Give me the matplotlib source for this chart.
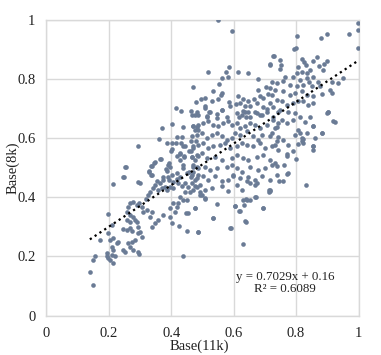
"""Scatter of Base(8k) against Base(11k) with a linear trendline."""

import matplotlib.pyplot as plt
import numpy as np

plt.rcParams["font.family"] = ["Liberation Serif", "DejaVu Serif"]

# values, grouped by region of the plot
lower_left = [
    (0.399, 0.558), (0.417, 0.540), (0.428, 0.549), (0.441, 0.535), (0.458, 0.555),
    (0.465, 0.535), (0.476, 0.526), (0.487, 0.540), (0.428, 0.526), (0.391, 0.509),
    (0.396, 0.504), (0.364, 0.528), (0.345, 0.517), (0.334, 0.506), (0.330, 0.487),
    (0.337, 0.475), (0.383, 0.495), (0.387, 0.490), (0.401, 0.475), (0.417, 0.483),
    (0.436, 0.498), (0.449, 0.481), (0.463, 0.470), (0.468, 0.487), (0.481, 0.504),
    (0.487, 0.475), (0.476, 0.459), (0.465, 0.447), (0.455, 0.436), (0.444, 0.419),
    (0.428, 0.470), (0.417, 0.461), (0.406, 0.453), (0.393, 0.459), (0.374, 0.459),
    (0.364, 0.447), (0.353, 0.456), (0.348, 0.442), (0.340, 0.430), (0.332, 0.419),
    (0.326, 0.408), (0.319, 0.393), (0.358, 0.425), (0.369, 0.430), (0.380, 0.436),
    (0.385, 0.425), (0.396, 0.436), (0.406, 0.430), (0.423, 0.447), (0.433, 0.438),
    (0.444, 0.447), (0.460, 0.419), (0.471, 0.425), (0.481, 0.436), (0.428, 0.402),
    (0.439, 0.391), (0.423, 0.380), (0.417, 0.368), (0.404, 0.380), (0.396, 0.363),
    (0.412, 0.351), (0.449, 0.391), (0.447, 0.346), (0.476, 0.363), (0.487, 0.284),
    (0.449, 0.287), (0.426, 0.303), (0.401, 0.312), (0.396, 0.335), (0.374, 0.340),
    (0.358, 0.323), (0.348, 0.312), (0.337, 0.301), (0.332, 0.335), (0.337, 0.351),
    (0.321, 0.357), (0.310, 0.351), (0.305, 0.366), (0.298, 0.380), (0.289, 0.374),
    (0.278, 0.385), (0.268, 0.380), (0.262, 0.368), (0.257, 0.351), (0.268, 0.340),
    (0.278, 0.335), (0.284, 0.323), (0.291, 0.318), (0.268, 0.318), (0.257, 0.323),
    (0.246, 0.292), (0.257, 0.289), (0.268, 0.295), (0.273, 0.287), (0.294, 0.301),
    (0.300, 0.284), (0.305, 0.267), (0.294, 0.278), (0.284, 0.256), (0.273, 0.250),
    (0.262, 0.245), (0.246, 0.222), (0.252, 0.216), (0.268, 0.233), (0.278, 0.222),
    (0.294, 0.216), (0.298, 0.208), (0.230, 0.250), (0.225, 0.245), (0.214, 0.222),
    (0.209, 0.233), (0.204, 0.256), (0.198, 0.279), (0.198, 0.344), (0.209, 0.307),
    (0.214, 0.262), (0.193, 0.211), (0.193, 0.200), (0.198, 0.194), (0.204, 0.188),
    (0.209, 0.205), (0.220, 0.202), (0.214, 0.177), (0.155, 0.200), (0.150, 0.188),
    (0.139, 0.149), (0.148, 0.104), (0.171, 0.256), (0.252, 0.502), (0.248, 0.468),
    (0.212, 0.445), (0.294, 0.453), (0.300, 0.447), (0.439, 0.200),
]

center = [
    (0.465, 0.679), (0.481, 0.690), (0.513, 0.676), (0.524, 0.690), (0.545, 0.682),
    (0.561, 0.694), (0.610, 0.685), (0.626, 0.679), (0.636, 0.690), (0.652, 0.673),
    (0.674, 0.685), (0.690, 0.679), (0.706, 0.690), (0.727, 0.673), (0.743, 0.687),
    (0.471, 0.640), (0.487, 0.645), (0.503, 0.651), (0.519, 0.657), (0.535, 0.645),
    (0.551, 0.640), (0.567, 0.651), (0.583, 0.657), (0.594, 0.645), (0.610, 0.651),
    (0.620, 0.634), (0.636, 0.640), (0.652, 0.651), (0.668, 0.645), (0.684, 0.634),
    (0.706, 0.645), (0.732, 0.634), (0.743, 0.651), (0.465, 0.606), (0.481, 0.611),
    (0.497, 0.617), (0.513, 0.600), (0.529, 0.611), (0.545, 0.617), (0.561, 0.606),
    (0.578, 0.595), (0.594, 0.600), (0.604, 0.617), (0.620, 0.611), (0.642, 0.623),
    (0.663, 0.606), (0.679, 0.595), (0.690, 0.611), (0.716, 0.606), (0.738, 0.589),
    (0.471, 0.572), (0.487, 0.578), (0.503, 0.583), (0.519, 0.566), (0.535, 0.572),
    (0.556, 0.578), (0.572, 0.583), (0.588, 0.566), (0.610, 0.572), (0.626, 0.583),
    (0.642, 0.578), (0.663, 0.572), (0.684, 0.583), (0.700, 0.566), (0.722, 0.572),
    (0.743, 0.561), (0.465, 0.538), (0.481, 0.544), (0.497, 0.549), (0.513, 0.533),
    (0.540, 0.538), (0.561, 0.527), (0.594, 0.533), (0.610, 0.544), (0.631, 0.533),
    (0.647, 0.527), (0.674, 0.538), (0.695, 0.544), (0.716, 0.527), (0.732, 0.516),
    (0.471, 0.510), (0.487, 0.499), (0.508, 0.504), (0.524, 0.493), (0.545, 0.499),
    (0.578, 0.504), (0.594, 0.510), (0.610, 0.499), (0.626, 0.487), (0.652, 0.504),
    (0.679, 0.493), (0.700, 0.499), (0.722, 0.510), (0.465, 0.476), (0.481, 0.465),
    (0.503, 0.471), (0.519, 0.459), (0.540, 0.471), (0.561, 0.454), (0.583, 0.459),
    (0.599, 0.476), (0.620, 0.465), (0.642, 0.454), (0.668, 0.459), (0.690, 0.471),
    (0.716, 0.459), (0.476, 0.437), (0.492, 0.442), (0.508, 0.425), (0.529, 0.431),
    (0.561, 0.437), (0.583, 0.420), (0.610, 0.442), (0.626, 0.425), (0.652, 0.448),
    (0.716, 0.425), (0.716, 0.420), (0.508, 0.397), (0.492, 0.409), (0.631, 0.392),
    (0.642, 0.392), (0.668, 0.401), (0.695, 0.363), (0.604, 0.369), (0.620, 0.354),
    (0.636, 0.321), (0.588, 0.296), (0.535, 0.330), (0.476, 0.363), (0.487, 0.282),
]

upper_right = [
    (0.997, 0.989), (0.997, 0.966), (0.999, 0.904), (0.968, 0.952), (0.898, 0.953),
    (0.879, 0.938), (0.802, 0.946), (0.800, 0.904), (0.793, 0.901), (0.729, 0.878),
    (0.748, 0.865), (0.750, 0.848), (0.748, 0.833), (0.716, 0.848), (0.818, 0.867),
    (0.825, 0.859), (0.832, 0.848), (0.855, 0.862), (0.866, 0.876), (0.874, 0.844),
    (0.889, 0.851), (0.900, 0.861), (0.887, 0.829), (0.807, 0.842), (0.804, 0.820),
    (0.818, 0.825), (0.834, 0.820), (0.845, 0.831), (0.855, 0.808), (0.834, 0.803),
    (0.812, 0.797), (0.789, 0.808), (0.764, 0.806), (0.757, 0.795), (0.738, 0.786),
    (0.722, 0.791), (0.780, 0.780), (0.802, 0.775), (0.823, 0.780), (0.842, 0.791),
    (0.850, 0.775), (0.871, 0.791), (0.877, 0.775), (0.914, 0.791), (0.935, 0.786),
    (0.949, 0.803), (0.909, 0.763), (0.914, 0.754), (0.882, 0.750), (0.853, 0.741),
    (0.834, 0.746), (0.818, 0.758), (0.796, 0.752), (0.780, 0.746), (0.759, 0.758),
    (0.732, 0.763), (0.722, 0.746), (0.738, 0.729), (0.754, 0.724), (0.770, 0.713),
    (0.791, 0.718), (0.807, 0.724), (0.823, 0.724), (0.839, 0.713), (0.853, 0.718),
    (0.727, 0.705), (0.748, 0.696), (0.775, 0.690), (0.796, 0.684), (0.812, 0.673),
    (0.845, 0.673), (0.903, 0.690), (0.919, 0.658), (0.855, 0.641), (0.829, 0.656),
    (0.807, 0.628), (0.791, 0.662), (0.770, 0.650), (0.754, 0.662), (0.738, 0.639),
    (0.727, 0.662), (0.722, 0.617), (0.743, 0.605), (0.759, 0.594), (0.775, 0.577),
    (0.796, 0.611), (0.818, 0.600), (0.834, 0.617), (0.855, 0.572), (0.882, 0.617),
    (0.732, 0.577), (0.823, 0.583),
]

upper_middle = [
    (0.551, 0.998), (0.593, 0.963), (0.586, 0.840), (0.575, 0.823), (0.581, 0.806),
    (0.561, 0.803), (0.552, 0.784), (0.517, 0.823), (0.613, 0.823), (0.645, 0.820),
    (0.679, 0.799), (0.716, 0.851), (0.727, 0.878), (0.468, 0.772), (0.533, 0.760),
    (0.561, 0.754), (0.558, 0.746), (0.551, 0.732), (0.529, 0.724), (0.508, 0.735),
    (0.495, 0.732), (0.479, 0.723), (0.509, 0.709), (0.522, 0.688), (0.508, 0.701),
    (0.462, 0.693), (0.430, 0.693), (0.414, 0.701), (0.476, 0.679), (0.487, 0.679),
    (0.513, 0.673), (0.561, 0.696), (0.586, 0.723), (0.588, 0.709), (0.615, 0.743),
    (0.631, 0.732), (0.647, 0.724), (0.665, 0.732), (0.679, 0.763), (0.684, 0.743),
    (0.695, 0.735), (0.703, 0.772), (0.716, 0.769), (0.711, 0.750), (0.620, 0.720),
    (0.607, 0.716), (0.636, 0.709), (0.652, 0.709), (0.674, 0.720), (0.693, 0.707),
    (0.716, 0.718), (0.629, 0.693), (0.647, 0.690), (0.668, 0.690), (0.684, 0.679),
    (0.706, 0.698), (0.618, 0.673), (0.641, 0.671), (0.577, 0.671), (0.545, 0.667),
]

scattered = [
    (0.401, 0.648), (0.369, 0.634), (0.438, 0.637), (0.468, 0.641), (0.482, 0.639),
    (0.477, 0.628), (0.484, 0.626), (0.292, 0.574), (0.362, 0.596), (0.385, 0.585),
    (0.401, 0.583), (0.417, 0.603), (0.433, 0.603), (0.415, 0.585), (0.430, 0.583),
    (0.436, 0.574), (0.444, 0.572), (0.463, 0.592), (0.478, 0.592), (0.469, 0.566),
    (0.462, 0.555), (0.401, 0.563), (0.428, 0.547), (0.441, 0.540), (0.367, 0.529),
    (0.394, 0.515), (0.436, 0.508), (0.470, 0.504), (0.458, 0.487), (0.254, 0.504),
    (0.328, 0.490), (0.337, 0.507), (0.348, 0.518), (0.334, 0.476), (0.246, 0.468),
    (0.372, 0.468), (0.388, 0.470), (0.772, 0.479), (0.744, 0.455), (0.759, 0.455),
    (0.738, 0.476), (0.714, 0.425), (0.714, 0.419), (0.831, 0.442), (0.693, 0.363),
    (0.672, 0.402), (0.652, 0.391), (0.639, 0.393), (0.633, 0.374), (0.618, 0.355),
    (0.604, 0.369), (0.638, 0.318), (0.590, 0.295), (0.631, 0.242), (0.545, 0.378),
    (0.533, 0.329), (0.455, 0.346), (0.508, 0.393), (0.492, 0.419), (0.497, 0.408),
    (0.674, 0.448), (0.668, 0.442), (0.647, 0.470), (0.599, 0.472), (0.855, 0.641),
    (0.882, 0.617), (0.861, 0.600), (0.853, 0.574), (0.855, 0.560), (0.813, 0.617),
    (0.823, 0.596), (0.818, 0.592), (0.807, 0.581), (0.772, 0.540), (0.775, 0.481),
    (0.738, 0.506), (0.925, 0.656), (0.903, 0.690), (0.898, 0.684), (0.790, 0.555),
    (0.770, 0.545), (0.760, 0.510), (0.800, 0.530),
]

# trendline as printed on the chart
slope = 0.7029
intercept = 0.16
r_squared = 0.6089

points = np.array(lower_left + center + upper_right + upper_middle + scattered)
base_11k = points[:, 0]
base_8k = points[:, 1]

fig = plt.figure(figsize=(3.81, 3.55), dpi=100)
ax = fig.add_axes([0.122, 0.111, 0.819, 0.833])

ax.scatter(base_11k, base_8k, s=11, color="#6A7B95", linewidths=0, zorder=3)

trend_x = np.array([base_11k.min(), base_11k.max()])
ax.plot(trend_x, slope * trend_x + intercept, color="black", lw=1.6,
        linestyle=(0, (1, 1.6)), zorder=4)

ax.set_xlim(0, 1)
ax.set_ylim(0, 1)
ticks = [0, 0.2, 0.4, 0.6, 0.8, 1]
tick_labels = ["0", "0.2", "0.4", "0.6", "0.8", "1"]
ax.set_xticks(ticks, tick_labels)
ax.set_yticks(ticks, tick_labels)
ax.tick_params(length=0, labelsize=10.5, pad=8, colors="#222222")
ax.grid(True, color="#D9D9D9", lw=1)
ax.set_axisbelow(True)
for spine in ax.spines.values():
    spine.set_color("#D9D9D9")
    spine.set_linewidth(1)

ax.set_xlabel("Base(11k)", fontsize=10.5, color="#222222", va="center")
ax.set_ylabel("Base(8k)", fontsize=10.5, color="#222222", va="center")
ax.xaxis.set_label_coords(0.49, -0.102)
ax.yaxis.set_label_coords(-0.108, 0.5)

ax.text(0.764, 0.11, f"y = {slope}x + {intercept}\nR² = {r_squared}",
        ha="center", va="center", multialignment="center",
        fontsize=9.3, color="#222222", linespacing=1.05)

fig.savefig("out.png", dpi=100)
